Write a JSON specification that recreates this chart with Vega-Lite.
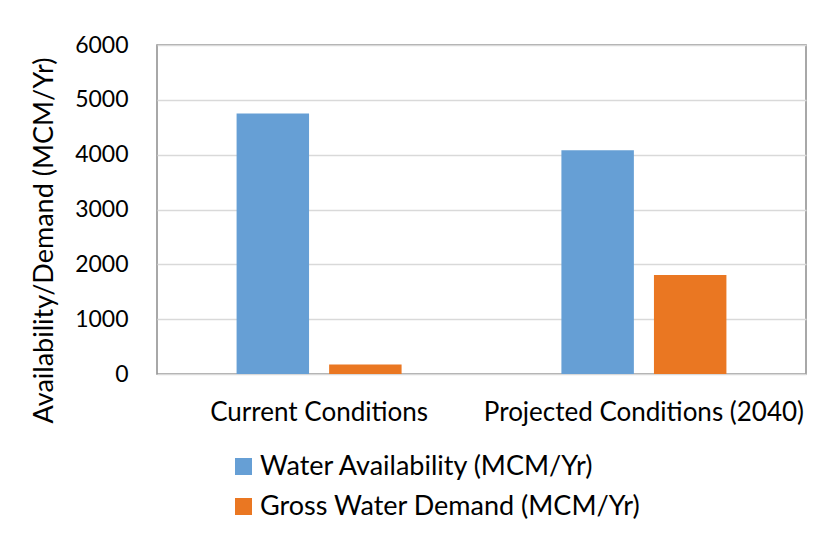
{
  "$schema": "https://vega.github.io/schema/vega-lite/v6.json",
  "width": 649,
  "height": 329,
  "autosize": {"type": "none"},
  "padding": {"left": 157, "top": 45, "right": 34, "bottom": 184},
  "background": "white",
  "data": {
    "values": [
      {"condition": "Current Conditions", "series": "Water Availability (MCM/Yr)", "value": 4750},
      {"condition": "Current Conditions", "series": "Gross Water Demand (MCM/Yr)", "value": 175},
      {"condition": "Projected Conditions (2040)", "series": "Water Availability (MCM/Yr)", "value": 4080},
      {"condition": "Projected Conditions (2040)", "series": "Gross Water Demand (MCM/Yr)", "value": 1805}
    ]
  },
  "mark": {"type": "bar"},
  "encoding": {
    "x": {
      "field": "condition",
      "type": "nominal",
      "sort": null,
      "scale": {"paddingInner": 0.492, "paddingOuter": 0.245},
      "axis": {
        "title": null,
        "labelAngle": 0,
        "labelFont": "Lato",
        "labelFontSize": 26,
        "labelColor": "#000000",
        "labelPadding": 25,
        "labelLimit": 0,
        "ticks": false,
        "domain": false
      }
    },
    "xOffset": {
      "field": "series",
      "type": "nominal",
      "sort": ["Water Availability (MCM/Yr)", "Gross Water Demand (MCM/Yr)"],
      "scale": {"paddingInner": 0.217, "paddingOuter": 0}
    },
    "y": {
      "field": "value",
      "type": "quantitative",
      "scale": {"domain": [0, 6000], "nice": false},
      "axis": {
        "title": "Availability/Demand (MCM/Yr)",
        "titleFont": "Lato",
        "titleFontSize": 27,
        "titleFontWeight": "normal",
        "titleColor": "#000000",
        "titleX": -113,
        "titleY": 195,
        "titleAngle": -90,
        "titleAlign": "center",
        "titleBaseline": "middle",
        "values": [0, 1000, 2000, 3000, 4000, 5000, 6000],
        "format": "d",
        "labelFont": "Lato",
        "labelFontSize": 23,
        "labelColor": "#000000",
        "labelPadding": 29,
        "ticks": false,
        "domain": false,
        "grid": true,
        "gridColor": "#d9d9d9",
        "gridWidth": 1.5
      }
    },
    "color": {
      "field": "series",
      "type": "nominal",
      "sort": ["Water Availability (MCM/Yr)", "Gross Water Demand (MCM/Yr)"],
      "scale": {
        "domain": ["Water Availability (MCM/Yr)", "Gross Water Demand (MCM/Yr)"],
        "range": ["#669fd5", "#ea7722"]
      },
      "legend": {
        "title": null,
        "orient": "none",
        "legendX": 73,
        "legendY": 408,
        "direction": "vertical",
        "symbolType": "square",
        "symbolSize": 289,
        "symbolStrokeWidth": 0,
        "labelFont": "Lato",
        "labelFontSize": 27,
        "labelColor": "#000000",
        "labelOffset": 3,
        "rowPadding": 12,
        "labelLimit": 600
      }
    }
  },
  "config": {
    "view": {"stroke": "#8c8c8c", "strokeWidth": 1.5}
  }
}
